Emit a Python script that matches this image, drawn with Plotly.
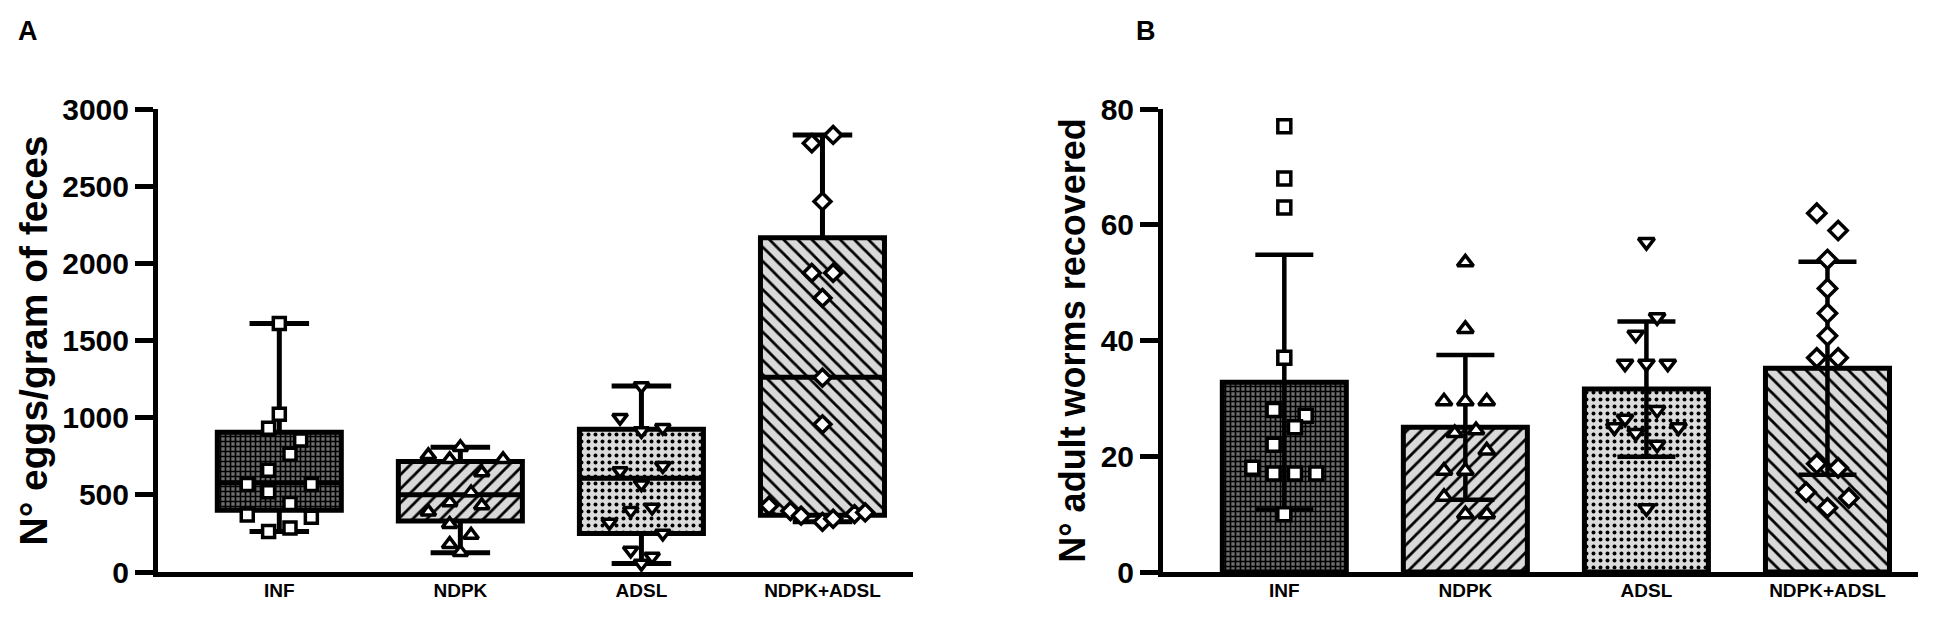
import plotly.graph_objects as go
from plotly.subplots import make_subplots

# groups shared by both panels
groups = ["INF", "NDPK", "ADSL", "NDPK+ADSL"]
symbols = ["square", "triangle-up", "triangle-down", "diamond"]

# panel A: eggs per gram of feces (box = min..max whiskers)
egg_min = [262, 125, 55, 325]
egg_q1 = [400, 330, 250, 368]
egg_median = [578, 500, 608, 1262]
egg_q3 = [905, 716, 925, 2165]
egg_max = [1610, 808, 1205, 2832]

eggs_inf = [1610, 1022, 931, 856, 763, 659, 567, 567, 520, 444, 370, 355, 285, 262]
eggs_ndpk = [808, 756, 730, 730, 644, 515, 451, 431, 390, 310, 240, 180, 128]
eggs_adsl = [1205, 1000, 935, 914, 688, 655, 569, 418, 397, 320, 250, 140, 100, 55]
eggs_both = [2832, 2778, 2401, 1938, 1938, 1776, 1259, 957, 430, 395, 365, 325, 345, 375, 386]

# horizontal slot of each point (prism scatter spread), in marker steps
slots_eggs_inf = [0, 0, -1, 2, 1, -1, -3, 3, -1, 1, -3, 3, 1, -1]
slots_eggs_ndpk = [0, -3, -1, 4, 2, 1, -1, 2, -3, -1, 1, -1, 0]
slots_eggs_adsl = [0, -2, 2, 0, 2, -2, 0, 1, -1, -3, 2, -1, 1, 0]
slots_eggs_both = [1, -1, 0, -1, 1, 0, 0, 0, -5, -3, -2, 0, 1, 3, 4]

# panel B: adult worms recovered (mean +/- SD)
worm_mean = [32.8, 25.0, 31.6, 35.2]
worm_sd = [22.0, 12.5, 11.7, 18.4]

worms_inf = [77, 68, 63, 37, 28, 27, 25, 22, 18, 17, 17, 17, 10]
worms_ndpk = [53.5, 42, 29.5, 29.5, 29.5, 24.5, 24, 21, 17.5, 17.5, 13, 10, 10]
worms_adsl = [57, 44, 41, 36, 36, 36, 28, 26.5, 25, 24, 25, 22, 11]
worms_both = [62, 59, 54, 49, 44.7, 40.8, 37, 37, 18.7, 18, 13.8, 12.8, 11.1]

slots_worms_inf = [0, 0, 0, 0, -1, 2, 1, -1, -3, -1, 1, 3, 0]
slots_worms_ndpk = [0, 0, -2, 0, 2, 1, -1, 2, -2, 0, -2, 0, 2]
slots_worms_adsl = [0, 1, -1, -2, 0, 2, 1, -2, -3, -1, 3, 1, 0]
slots_worms_both = [-1, 1, 0, 0, 0, 0, -1, 1, -1, 1, -2, 2, 0]

FONT = "Arial, Liberation Sans, sans-serif"
BOX_W = 0.685
STEP = 0.059
pos = list(range(len(groups)))

fills = dict(
    shape=["+", "/", ".", "\\"],
    bgcolor=["#6e6e6e", "#d9d9d9", "#dcdcdc", "#d9d9d9"],
    fgcolor="black",
    size=[5, 10, 7, 10],
    solidity=[0.55, 0.28, 0.25, 0.28],
    fillmode="replace",
)

fig = make_subplots(rows=1, cols=2)

# ---- panel A
fig.add_trace(go.Bar(
    x=pos, y=[b - a for a, b in zip(egg_q1, egg_q3)], base=egg_q1, width=BOX_W,
    marker=dict(color="#d9d9d9", line=dict(width=0), pattern=fills),
    showlegend=False, hoverinfo="skip",
), row=1, col=1)
fig.add_trace(go.Box(
    x=pos, q1=egg_q1, median=egg_median, q3=egg_q3,
    lowerfence=egg_min, upperfence=egg_max, width=BOX_W,
    fillcolor="rgba(0,0,0,0)", line=dict(color="black", width=5),
    whiskerwidth=0.48, boxpoints=False, showlegend=False,
), row=1, col=1)

egg_sets = [(eggs_inf, slots_eggs_inf), (eggs_ndpk, slots_eggs_ndpk),
            (eggs_adsl, slots_eggs_adsl), (eggs_both, slots_eggs_both)]
for i, (vals, slots) in enumerate(egg_sets):
    fig.add_trace(go.Scatter(
        x=[i + s * STEP for s in slots], y=vals, mode="markers",
        marker=dict(symbol=symbols[i], size=12 if i == 0 else 13, color="white",
                    line=dict(color="black", width=3.5)),
        showlegend=False, cliponaxis=False,
    ), row=1, col=1)

# ---- panel B
fig.add_trace(go.Bar(
    x=pos, y=worm_mean, width=BOX_W,
    marker=dict(color="#d9d9d9", line=dict(color="black", width=5), pattern=fills),
    error_y=dict(type="data", array=worm_sd, color="black", thickness=4.5, width=29),
    showlegend=False,
), row=1, col=2)

worm_sets = [(worms_inf, slots_worms_inf), (worms_ndpk, slots_worms_ndpk),
             (worms_adsl, slots_worms_adsl), (worms_both, slots_worms_both)]
for i, (vals, slots) in enumerate(worm_sets):
    fig.add_trace(go.Scatter(
        x=[i + s * STEP for s in slots], y=vals, mode="markers",
        marker=dict(symbol=symbols[i], size=13 if i == 0 else 14, color="white",
                    line=dict(color="black", width=3.5)),
        showlegend=False, cliponaxis=False,
    ), row=1, col=2)

axis_common = dict(showline=True, linecolor="black", linewidth=5, showgrid=False,
                   zeroline=False, tickfont=dict(family=FONT, size=30, color="black"))

fig.update_xaxes(range=[-0.67, 3.5], tickvals=pos, ticktext=["<b>%s</b>" % g for g in groups],
                 ticks="", showline=True, linecolor="black", linewidth=5, showgrid=False,
                 zeroline=False, ticklabelstandoff=-3,
                 tickfont=dict(family=FONT, size=19, color="black"))
fig.update_xaxes(domain=[150 / 1950, 905 / 1950], row=1, col=1)
fig.update_xaxes(domain=[1155 / 1950, 1910 / 1950], row=1, col=2)

fig.update_yaxes(**axis_common, ticks="outside", ticklen=18, tickwidth=5, tickcolor="black")
fig.update_yaxes(range=[0, 3000], tickvals=[0, 500, 1000, 1500, 2000, 2500, 3000],
                 ticktext=["<b>%d</b>" % v for v in [0, 500, 1000, 1500, 2000, 2500, 3000]],
                 title=dict(text="<b>N° eggs/gram of feces</b>", font=dict(family=FONT, size=39, color="black"),
                            standoff=4),
                 row=1, col=1)
fig.update_yaxes(range=[0, 80], tickvals=[0, 20, 40, 60, 80],
                 ticktext=["<b>%d</b>" % v for v in [0, 20, 40, 60, 80]],
                 title=dict(text="<b>N° adult worms recovered</b>", font=dict(family=FONT, size=36, color="black"),
                            standoff=6),
                 row=1, col=2)

fig.add_annotation(text="<b>A</b>", x=0.004, y=1.205, xref="paper", yref="paper",
                   xanchor="left", yanchor="top", showarrow=False,
                   font=dict(family=FONT, size=27, color="black"))
fig.add_annotation(text="<b>B</b>", x=1126 / 1950, y=1.205, xref="paper", yref="paper",
                   xanchor="left", yanchor="top", showarrow=False,
                   font=dict(family=FONT, size=27, color="black"))

fig.update_layout(
    width=1950, height=622,
    margin=dict(l=0, r=0, t=101, b=58),
    plot_bgcolor="white", paper_bgcolor="white",
    barmode="overlay",
    font=dict(family=FONT, color="black"),
)

fig.write_html("out.html")
